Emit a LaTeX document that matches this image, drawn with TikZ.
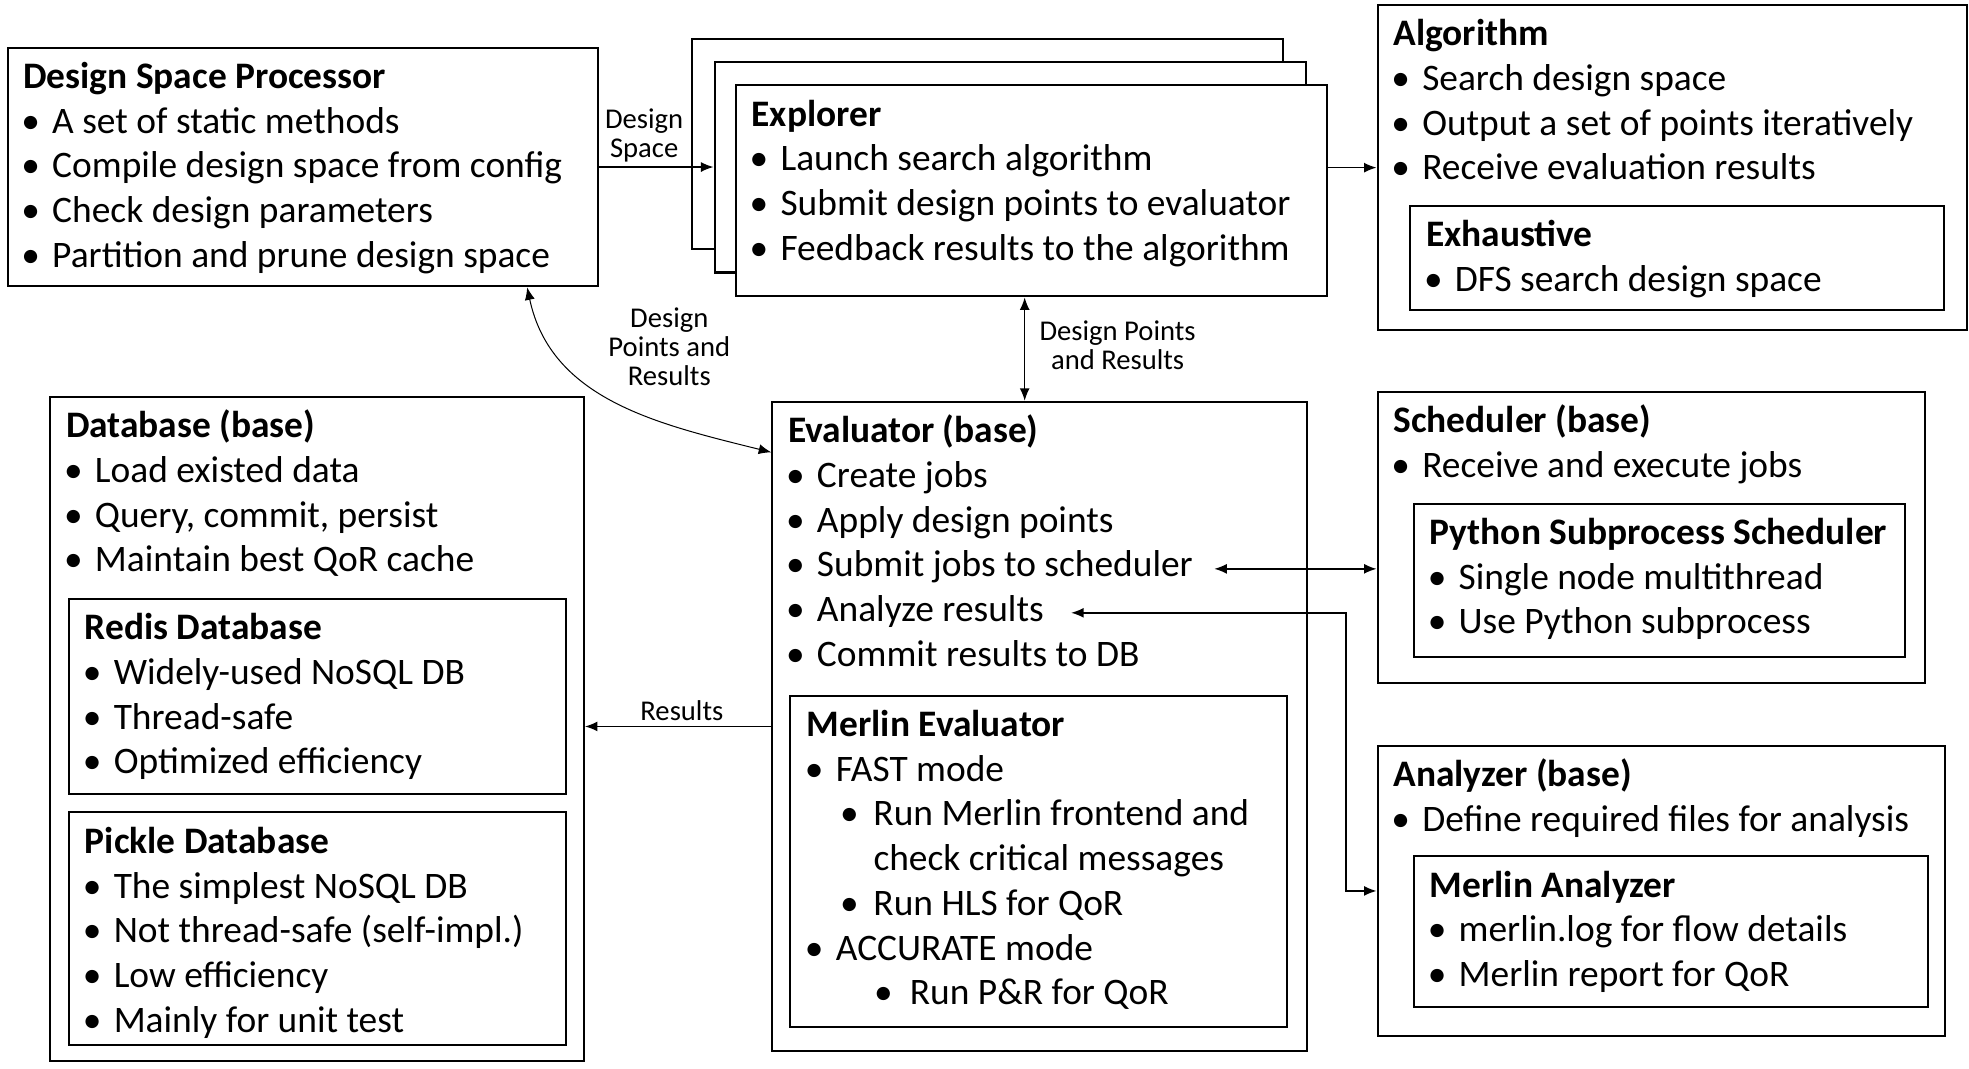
\documentclass[tikz,border=0pt]{standalone}
\usepackage{fontspec}
\setmainfont{Carlito}
\usepackage{tikz}
\usetikzlibrary{arrows.meta,positioning,fit}
\tikzset{>/.tip={Latex[length=5pt,width=4pt]}}
\tikzset{box/.style={draw,line width=0.8pt,fill=white,inner sep=0pt}}
\tikzset{txt/.style={inner sep=0pt,align=left,font=\bodyfont}}
\tikzset{lbl/.style={inner sep=0pt,align=center,font=\lblfont}}
\tikzset{conn/.style={line width=0.6pt}}
\newcommand{\bodyfont}{\fontsize{14.9}{17.8}\selectfont}
\newcommand{\lblfont}{\fontsize{11.4}{11.6}\selectfont}
\newcommand{\hd}[1]{\strut\textbf{#1}}
\newcommand{\itm}[1]{\strut\makebox[11.5pt][l]{\hspace{-0.8pt}\textbullet}#1}
\newcommand{\itmb}[1]{\strut\hspace*{14pt}\makebox[12.5pt][l]{\hspace{-0.8pt}\textbullet}#1}
\newcommand{\itmc}[1]{\strut\hspace*{27.5pt}\makebox[13.5pt][l]{\hspace{-0.8pt}\textbullet}#1}

\begin{document}
\begin{tikzpicture}[x=0.5pt,y=-0.5pt,node distance=4pt and 6.5pt]
      \useasboundingbox (0,0) rectangle (1568,850.5);

      % boxes
      \node[box,fit={(6,38) (476,228)}](dsp){};
      \node[box,fit={(551,31) (1022,198)}](exp3){};
      \node[box,fit={(569,49) (1040,217)}](exp2){};
      \node[box,fit={(586,68) (1057,236)}](exp){};
      \node[box,fit={(1097,4) (1566,263)}](alg){};
      \node[box,fit={(1123,164) (1548,247)}](exh){};
      \node[box,fit={(615,320) (1041,837)}](eva){};
      \node[box,fit={(629,554) (1025,818)}](mev){};
      \node[box,fit={(40,316) (465,845)}](db){};
      \node[box,fit={(55,477) (451,632)}](redis){};
      \node[box,fit={(55,647) (451,832)}](pickle){};
      \node[box,fit={(1097,312) (1533,544)}](sch){};
      \node[box,fit={(1126,401) (1517,523)}](pss){};
      \node[box,fit={(1097,594) (1549,825)}](ana){};
      \node[box,fit={(1126,682) (1535,802)}](man){};

      % texts
      \node[txt,below right=of dsp.north west](dsp-t){\hd{Design Space Processor}\\\itm{A set of static methods}\\\itm{Compile design space from config}\\\itm{Check design parameters}\\\itm{Partition and prune design space}};
      \node[txt,below right=of exp.north west](exp-t){\hd{Explorer}\\\itm{Launch search algorithm}\\\itm{Submit design points to evaluator}\\\itm{Feedback results to the algorithm}};
      \node[txt,below right=of alg.north west](alg-t){\hd{Algorithm}\\\itm{Search design space}\\\itm{Output a set of points iteratively}\\\itm{Receive evaluation results}};
      \node[txt,below right=of exh.north west](exh-t){\hd{Exhaustive}\\\itm{DFS search design space}};
      \node[txt,below right=of eva.north west](eva-t){\hd{Evaluator (base)}\\\itm{Create jobs}\\\itm{Apply design points}\\\itm{Submit jobs to scheduler}\\\itm{Analyze results}\\\itm{Commit results to DB}};
      \node[txt,below right=4pt and 7pt of mev.north west](mev-t){\hd{Merlin Evaluator}\\\itm{FAST mode}\\\itmb{Run Merlin frontend and}\\\strut\hspace*{26.5pt}check critical messages\\\itmb{Run HLS for QoR}\\\itm{ACCURATE mode}\\\itmc{Run P\&R for QoR}};
      \node[txt,below right=of db.north west](db-t){\hd{Database (base)}\\\itm{Load existed data}\\\itm{Query, commit, persist}\\\itm{Maintain best QoR cache}};
      \node[txt,below right=of redis.north west](redis-t){\hd{Redis Database}\\\itm{Widely-used NoSQL DB}\\\itm{Thread-safe}\\\itm{Optimized efficiency}};
      \node[txt,below right=of pickle.north west](pickle-t){\hd{Pickle Database}\\\itm{The simplest NoSQL DB}\\\itm{Not thread-safe (self-impl.)}\\\itm{Low efficiency}\\\itm{Mainly for unit test}};
      \node[txt,below right=of sch.north west](sch-t){\hd{Scheduler (base)}\\\itm{Receive and execute jobs}};
      \node[txt,below right=of pss.north west](pss-t){\hd{Python Subprocess Scheduler}\\\itm{Single node multithread}\\\itm{Use Python subprocess}};
      \node[txt,below right=of ana.north west](ana-t){\hd{Analyzer (base)}\\\itm{Define required files for analysis}};
      \node[txt,below right=of man.north west](man-t){\hd{Merlin Analyzer}\\\itm{merlin.log for flow details}\\\itm{Merlin report for QoR}};

      % labels
      \node[lbl](ds-l) at (513,108){Design\\Space};
      \node[lbl](dpr-l) at (533,276){Design\\Points and\\Results};
      \node[lbl](dpr2-l) at (890,275){Design Points\\and Results};
      \node[lbl](res-l) at (543,566){Results};

      % free ends
      \coordinate (sj) at (967,453);
      \coordinate (ar) at (853,488);
      \coordinate (anabend) at (1072,488);

      \draw[conn,->] (dsp.east) -- (dsp.east -| exp2.west);
      \draw[conn,->] (exp.east |- alg.west) -- (alg.west);
      \draw[conn,<->] ([xshift=-2.75pt]exp.south) -- ([xshift=-2.75pt]exp.south |- eva.north);
      \draw[line width=0.4pt,<->] ([xshift=-28.5pt]dsp.south east) to[out=-78,in=166] ([yshift=-20.5pt]eva.north west);
      \draw[conn,->] (eva.west) -- (eva.west -| db.east);
      \draw[conn,<->] (sj) -- (sj -| sch.west);
      \draw[conn,<->] (ar) -- (anabend) |- (ana.west);
    \end{tikzpicture}
\end{document}
